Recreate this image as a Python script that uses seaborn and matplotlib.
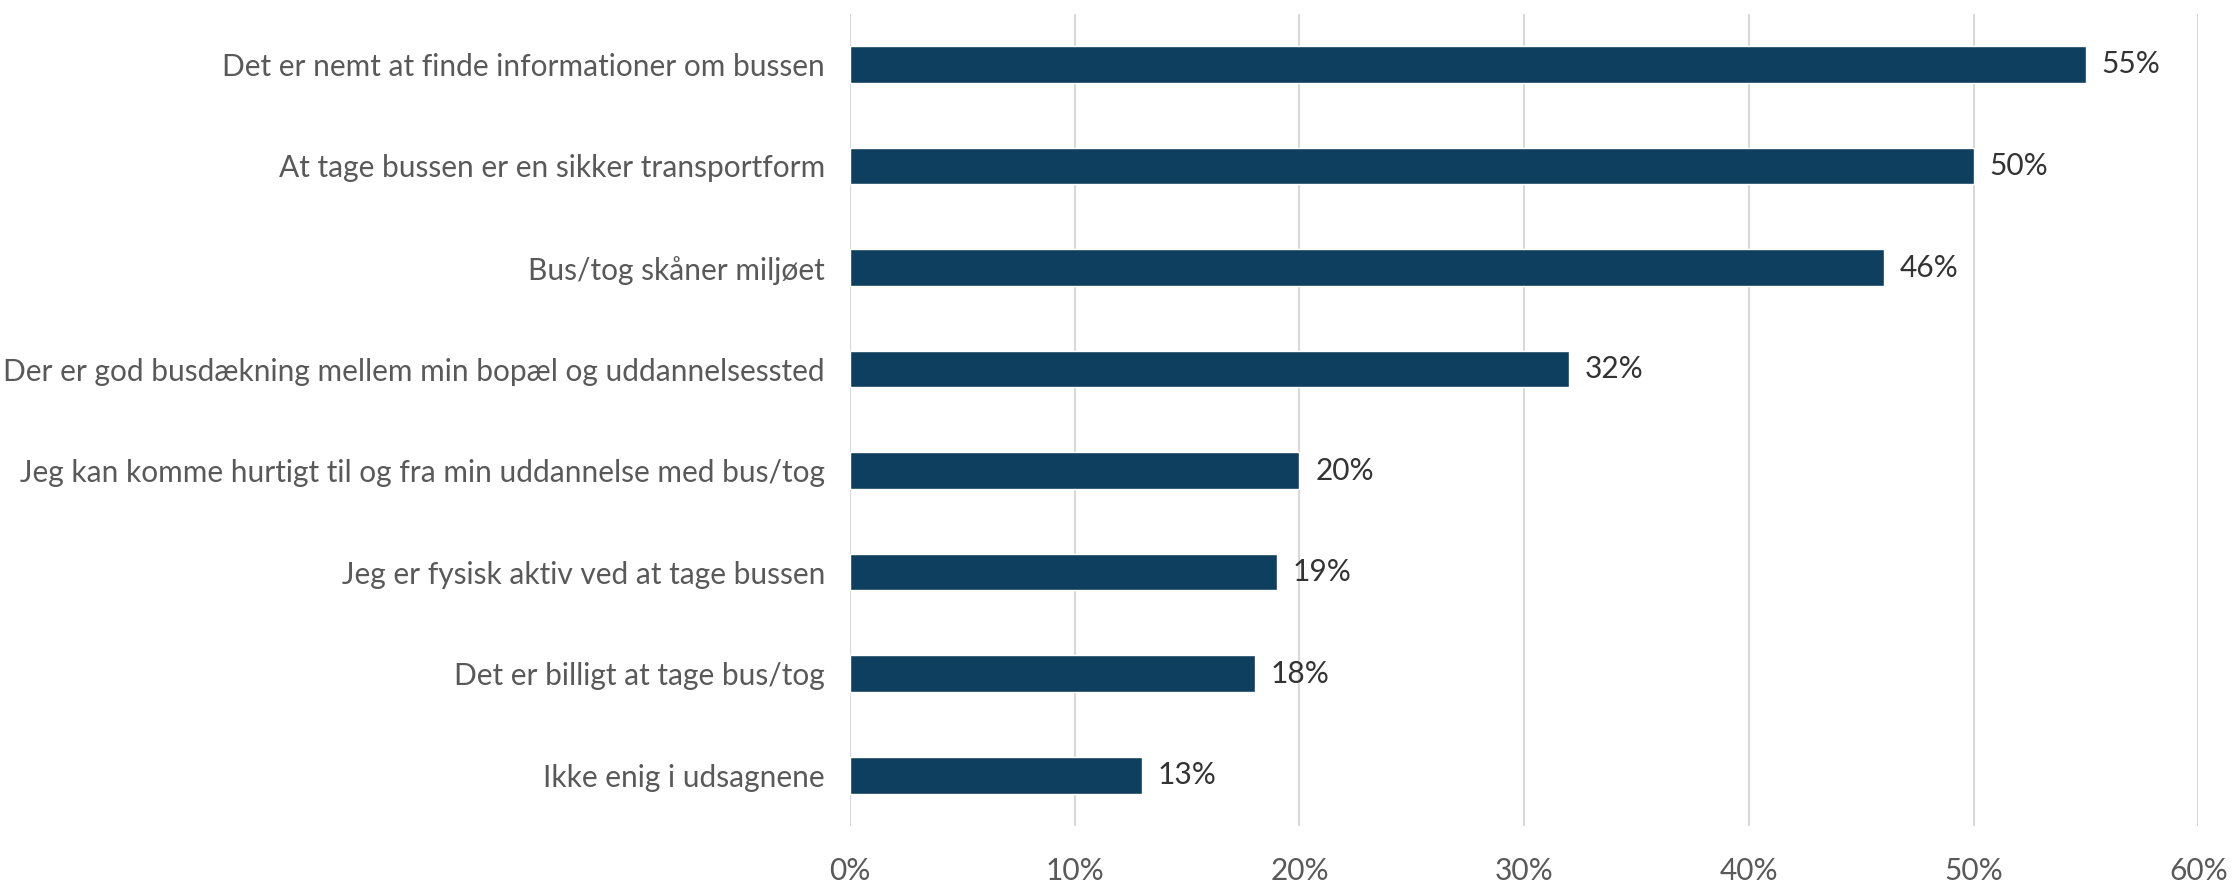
import matplotlib
matplotlib.use("Agg")
import matplotlib.pyplot as plt
import seaborn as sns
import pandas as pd
from matplotlib.ticker import FuncFormatter

statements = [
    "Det er nemt at finde informationer om bussen",
    "At tage bussen er en sikker transportform",
    "Bus/tog skåner miljøet",
    "Der er god busdækning mellem min bopæl og uddannelsessted",
    "Jeg kan komme hurtigt til og fra min uddannelse med bus/tog",
    "Jeg er fysisk aktiv ved at tage bussen",
    "Det er billigt at tage bus/tog",
    "Ikke enig i udsagnene",
]
shares = [55, 50, 46, 32, 20, 19, 18, 13]
x_ticks = [0, 10, 20, 30, 40, 50, 60]

sns.set_style("white")
plt.rcParams["font.family"] = ["Lato", "DejaVu Sans"]

text_color = "#595959"
bar_color = "#0F3F5E"

df = pd.DataFrame({"statement": statements, "share": shares})

fig = plt.figure(figsize=(22.34, 8.82), dpi=100)
ax = fig.add_axes([0.3805, 0.0635, 0.6035, 0.921])

sns.barplot(data=df, x="share", y="statement", orient="h", color=bar_color,
            width=0.36, saturation=1, ax=ax)

for i, v in enumerate(shares):
    ax.text(v + 0.7, i, f"{v}%", va="center", ha="left", fontsize=21.5, color="#333333")

ax.set_xlim(0, 60)
ax.set_xticks(x_ticks)
ax.xaxis.set_major_formatter(FuncFormatter(lambda v, p: f"{v:.0f}%"))
ax.grid(axis="x", color="#D9D9D9", linewidth=1.5)
ax.set_axisbelow(True)
for s in ax.spines.values():
    s.set_visible(False)
ax.tick_params(axis="both", length=0, labelsize=21.5, labelcolor=text_color)
ax.tick_params(axis="y", pad=18)
ax.tick_params(axis="x", pad=22)
ax.set_xlabel("")
ax.set_ylabel("")

fig.savefig("out.png", dpi=100)
